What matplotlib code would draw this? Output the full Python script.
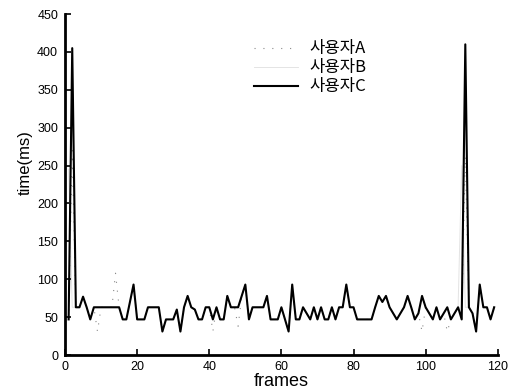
import matplotlib
matplotlib.use("Agg")
import matplotlib.pyplot as plt

frames = list(range(1, 120))

# user C (black solid line)
user_c = [47, 405, 63, 63, 77, 63, 47, 63, 63, 63,
          63, 63, 63, 63, 63, 47, 47, 70, 93, 47,
          47, 47, 63, 63, 63, 63, 31, 47, 47, 47,
          60, 31, 63, 78, 63, 60, 47, 47, 63, 63,
          47, 63, 47, 47, 78, 63, 63, 63, 78, 93,
          47, 63, 63, 63, 63, 78, 47, 47, 47, 63,
          47, 31, 93, 47, 47, 63, 55, 47, 63, 47,
          63, 47, 47, 63, 47, 63, 63, 93, 63, 63,
          47, 47, 47, 47, 47, 63, 78, 70, 78, 63,
          55, 47, 55, 63, 78, 63, 47, 55, 78, 63,
          55, 47, 63, 47, 55, 63, 47, 55, 63, 47,
          410, 63, 55, 31, 93, 63, 63, 47, 63]

# user A (dotted, mostly hidden under C)
user_a = [47, 270, 63, 63, 77, 63, 47, 63, 31, 63,
          63, 63, 63, 108, 63, 47, 47, 70, 93, 47,
          47, 47, 63, 63, 63, 63, 31, 47, 47, 47,
          60, 31, 63, 78, 63, 60, 47, 47, 63, 63,
          31, 63, 47, 47, 78, 63, 63, 38, 78, 93,
          47, 63, 63, 63, 63, 78, 47, 47, 47, 63,
          47, 31, 93, 47, 47, 63, 55, 47, 63, 47,
          63, 47, 47, 63, 47, 63, 63, 93, 63, 63,
          47, 47, 47, 47, 47, 63, 78, 70, 78, 63,
          55, 47, 55, 63, 78, 63, 47, 55, 31, 63,
          55, 47, 63, 47, 55, 31, 47, 55, 63, 47,
          262, 63, 55, 31, 93, 63, 63, 47, 63]

# user B (very light line)
user_b = [245, 63, 63, 63, 77, 63, 47, 63, 63, 63,
          63, 63, 63, 63, 63, 47, 47, 70, 93, 47,
          47, 47, 63, 63, 63, 63, 31, 47, 47, 47,
          60, 31, 63, 78, 63, 60, 47, 47, 63, 63,
          47, 63, 47, 47, 78, 63, 63, 63, 78, 93,
          47, 63, 63, 63, 63, 78, 47, 47, 47, 63,
          47, 31, 93, 47, 47, 63, 55, 47, 63, 47,
          63, 47, 47, 63, 47, 63, 63, 93, 63, 63,
          47, 47, 47, 47, 47, 63, 78, 70, 78, 63,
          55, 47, 55, 63, 78, 63, 47, 55, 78, 63,
          55, 47, 63, 47, 55, 63, 47, 55, 63, 250,
          63, 63, 55, 31, 93, 63, 63, 47, 63]

labels = ["사용자A", "사용자B", "사용자C"]
xticks = [0, 20, 40, 60, 80, 100, 120]
yticks = [0, 50, 100, 150, 200, 250, 300, 350, 400, 450]

plt.rcParams['font.family'] = ['Liberation Sans', 'Noto Sans CJK KR']

fig = plt.figure(figsize=(5.1, 3.9), dpi=100)
ax = fig.add_axes([0.1275, 0.0897, 0.8485, 0.8743])

ax.plot(frames, user_a, color='#8a8a8a', lw=0.8, ls=(0, (1, 7)), label=labels[0])
ax.plot(frames, user_b, color='#e4e4e4', lw=0.7, label=labels[1])
ax.plot(frames, user_c, color='black', lw=1.5, label=labels[2])

ax.set_xlim(0, 120)
ax.set_ylim(0, 450)
ax.set_xticks(xticks)
ax.set_yticks(yticks)
ax.tick_params(direction='in', length=4, width=1.2, labelsize=9, pad=4)
ax.tick_params(axis='y', pad=5)
for s in ['top', 'right']:
    ax.spines[s].set_visible(False)
for s in ['left', 'bottom']:
    ax.spines[s].set_linewidth(2)

ax.set_xlabel("frames", fontsize=13, labelpad=0)
ax.set_ylabel("time(ms)", fontsize=12, labelpad=2)
ax.yaxis.set_label_coords(-0.075, 0.565)

leg = ax.legend(loc='center', bbox_to_anchor=(0.5665, 0.842), frameon=False,
                prop={'family': 'Noto Sans CJK KR', 'size': 12},
                handlelength=2.6, handletextpad=0.7, labelspacing=0.12)

fig.savefig("out.png", dpi=100)
